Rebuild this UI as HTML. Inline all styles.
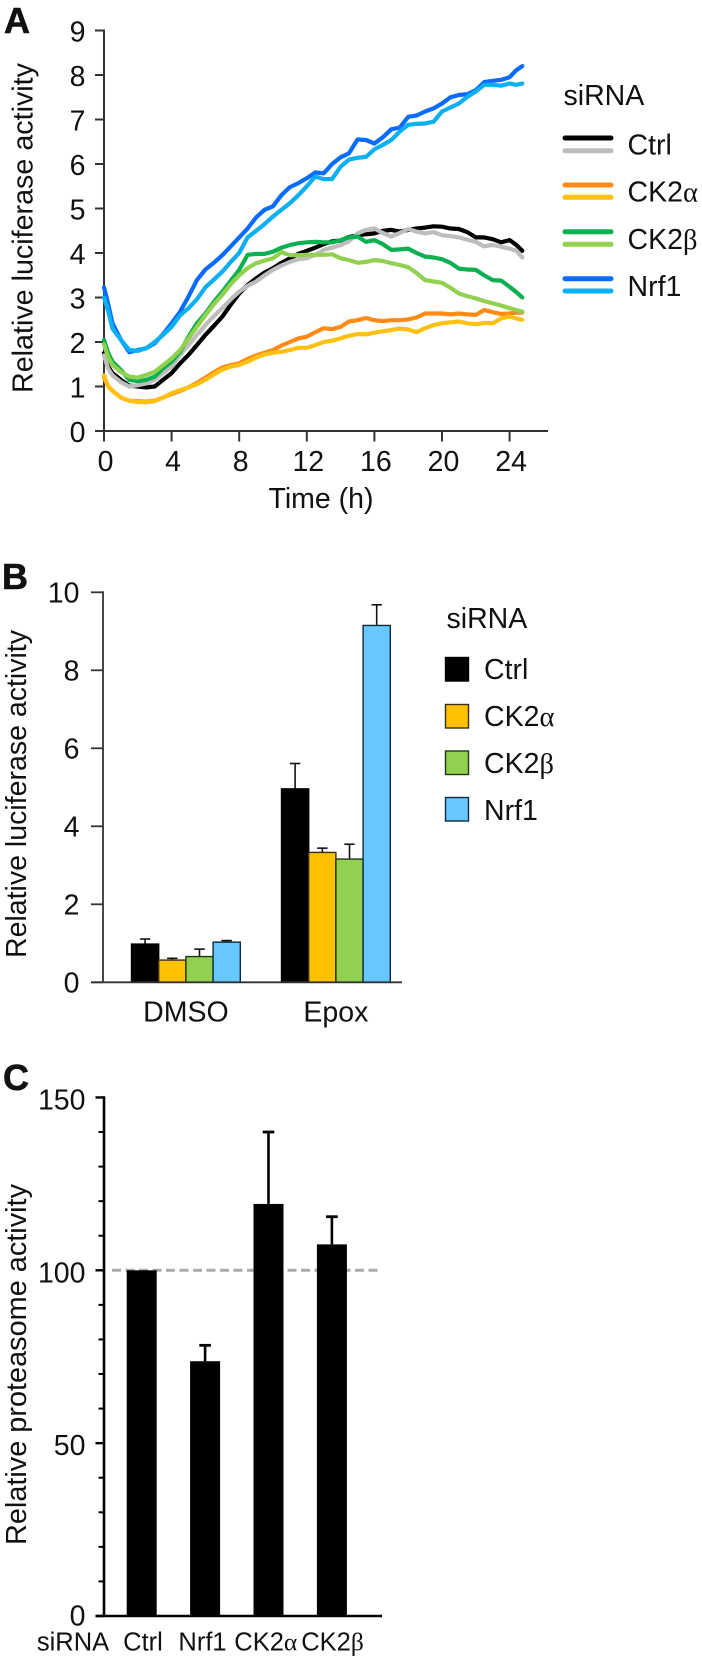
<!DOCTYPE html>
<html lang="en">
<head>
<meta charset="utf-8">
<title>siRNA luciferase and proteasome activity</title>
<style>
html,body{margin:0;padding:0;background:#fff;}
svg{display:block;}
text{font-family:"Liberation Sans",Arial,sans-serif;fill:#111;}
.g{font-family:"Liberation Serif",serif;}
.p{stroke:#111;stroke-width:0.6;}
</style>
</head>
<body>
<svg id="fig" xmlns="http://www.w3.org/2000/svg" width="702" height="1657" viewBox="0 0 702 1657">
  <rect width="702" height="1657" fill="#fff"/>

  <text class="p" x="4" y="33" font-size="36" font-weight="bold">A</text>
  <text transform="translate(32.5,393) rotate(-90)" font-size="28.5" textLength="330" lengthAdjust="spacingAndGlyphs">Relative luciferase activity</text>
  <text x="321" y="508" font-size="28.5" text-anchor="middle">Time (h)</text>
  <text x="563.5" y="105" font-size="28.5">siRNA</text>
  <g id="legendA">
    <text x="627.5" y="154.5" font-size="28.5">Ctrl</text>
    <text x="627.5" y="201.7" font-size="28.5">CK2<tspan class="g">α</tspan></text>
    <text x="627.5" y="249" font-size="28.5">CK2<tspan class="g">β</tspan></text>
    <text x="627.5" y="296" font-size="28.5">Nrf1</text>
  </g>

  <text class="p" x="2" y="589" font-size="36" font-weight="bold">B</text>
  <text transform="translate(26,958) rotate(-90)" font-size="28.5" textLength="328" lengthAdjust="spacingAndGlyphs">Relative luciferase activity</text>
  <text x="446.5" y="628" font-size="28.5">siRNA</text>
  <g id="legendB">
    <text x="484" y="679" font-size="28.5">Ctrl</text>
    <text x="484" y="726" font-size="28.5">CK2<tspan class="g">α</tspan></text>
    <text x="484" y="773" font-size="28.5">CK2<tspan class="g">β</tspan></text>
    <text x="484" y="820" font-size="28.5">Nrf1</text>
  </g>

  <text class="p" x="3" y="1090" font-size="36" font-weight="bold">C</text>
  <text transform="translate(26,1545) rotate(-90)" font-size="28.5" textLength="361" lengthAdjust="spacingAndGlyphs">Relative proteasome activity</text>
  <text x="73" y="1650.7" font-size="25.5" text-anchor="middle">siRNA</text>
  <text x="143" y="1650.7" font-size="25.5" text-anchor="middle">Ctrl</text>
  <text x="202.5" y="1650.7" font-size="25.5" text-anchor="middle">Nrf1</text>
  <text x="265.8" y="1650.7" font-size="25.5" text-anchor="middle">CK2<tspan class="g">α</tspan></text>
  <text x="332.5" y="1650.7" font-size="25.5" text-anchor="middle">CK2<tspan class="g">β</tspan></text>
</svg>

<script>
// ---------- Panel A data ----------
var hours = [0,0.25,0.5,1,1.5,2,2.5,3,3.5,4,
  4.5,5,5.5,6,6.5,7,7.5,8,8.5,9,
  9.5,10,10.5,11,11.5,12,12.5,13,13.5,14,
  14.5,15,15.5,16,16.5,17,17.5,18,18.5,19,
  19.5,20,20.5,21,21.5,22,22.5,23,23.5,24,
  24.4,24.75];
var ctrlDark = [1.75,1.45,1.3,1.15,1.02,1.0,0.98,1.0,1.15,1.3,
  1.52,1.71,1.93,2.16,2.36,2.57,2.84,3.09,3.28,3.43,
  3.56,3.66,3.78,3.88,3.98,4.05,4.12,4.2,4.26,4.28,
  4.36,4.4,4.42,4.44,4.5,4.52,4.48,4.52,4.55,4.57,
  4.6,4.59,4.55,4.54,4.47,4.35,4.35,4.31,4.24,4.29,
  4.18,4.05];
var ctrlLight = [1.7,1.4,1.25,1.1,1.0,1.03,1.07,1.15,1.3,1.45,
  1.71,1.93,2.16,2.38,2.58,2.76,2.96,3.13,3.26,3.36,
  3.5,3.62,3.72,3.8,3.86,3.88,3.96,4.07,4.12,4.18,
  4.26,4.44,4.52,4.55,4.45,4.37,4.45,4.54,4.48,4.44,
  4.47,4.4,4.38,4.35,4.3,4.25,4.15,4.18,4.14,4.1,
  4.05,3.9];
var ck2aDark = [1.2,1.0,0.9,0.75,0.68,0.67,0.66,0.68,0.75,0.83,
  0.9,0.98,1.08,1.2,1.32,1.43,1.48,1.52,1.62,1.7,
  1.76,1.82,1.92,2.0,2.08,2.12,2.22,2.31,2.29,2.34,
  2.46,2.49,2.54,2.49,2.47,2.49,2.49,2.51,2.55,2.64,
  2.64,2.64,2.62,2.64,2.62,2.61,2.72,2.67,2.63,2.64,
  2.66,2.66];
var ck2aLight = [1.25,1.0,0.9,0.75,0.68,0.65,0.65,0.67,0.75,0.85,
  0.92,0.98,1.05,1.15,1.27,1.38,1.45,1.48,1.56,1.65,
  1.72,1.76,1.78,1.82,1.87,1.87,1.93,2.0,2.03,2.08,
  2.14,2.18,2.17,2.21,2.24,2.27,2.3,2.28,2.22,2.31,
  2.38,2.42,2.44,2.46,2.42,2.4,2.43,2.42,2.53,2.57,
  2.53,2.5];
var ck2bDark = [2.05,1.75,1.56,1.37,1.15,1.12,1.15,1.22,1.41,1.56,
  1.78,2.12,2.42,2.64,2.9,3.13,3.38,3.62,3.96,3.98,
  3.98,4.03,4.12,4.18,4.22,4.24,4.25,4.24,4.24,4.29,
  4.35,4.37,4.25,4.29,4.2,4.07,4.08,4.1,4.0,3.92,
  3.9,3.86,3.78,3.65,3.63,3.62,3.5,3.39,3.38,3.24,
  3.12,3.0];
var ck2bLight = [1.95,1.65,1.48,1.33,1.22,1.2,1.26,1.33,1.48,1.63,
  1.82,2.08,2.34,2.6,2.85,3.06,3.3,3.5,3.66,3.77,
  3.83,3.88,4.02,3.95,3.95,3.96,3.96,3.96,3.97,3.88,
  3.84,3.78,3.8,3.84,3.82,3.77,3.73,3.68,3.55,3.39,
  3.36,3.33,3.22,3.09,3.03,2.98,2.92,2.87,2.82,2.76,
  2.72,2.68];
var nrfDark = [3.23,2.85,2.42,2.05,1.77,1.82,1.86,1.97,2.18,2.42,
  2.68,3.02,3.39,3.63,3.78,3.95,4.15,4.35,4.55,4.8,
  4.97,5.05,5.3,5.48,5.57,5.68,5.81,5.79,6.0,6.15,
  6.24,6.55,6.54,6.46,6.6,6.78,6.82,7.06,7.09,7.18,
  7.25,7.36,7.5,7.55,7.57,7.66,7.84,7.87,7.89,7.95,
  8.11,8.2];
var nrfLight = [3.0,2.7,2.3,2.05,1.82,1.8,1.86,2.0,2.16,2.34,
  2.6,2.76,2.96,3.23,3.4,3.58,3.8,4.0,4.35,4.5,
  4.65,4.82,4.97,5.12,5.3,5.5,5.72,5.66,5.66,5.94,
  6.1,6.14,6.16,6.33,6.43,6.54,6.73,6.88,6.9,6.91,
  6.95,7.18,7.27,7.36,7.51,7.63,7.78,7.78,7.76,7.81,
  7.78,7.81];
var aYTicks = [0,1,2,3,4,5,6,7,8,9];
var aXTicks = [0,4,8,12,16,20,24];

// ---------- Panel B data ----------
var bGroups = ["DMSO","Epox"];
var bSeriesNames = ["ctrl","ck2a","ck2b","nrf1"];
var bDmso = [0.98,0.57,0.66,1.03];
var bDmsoErrTop = [1.11,0.615,0.85,1.07];
var bEpox = [4.96,3.33,3.16,9.15];
var bEpoxErrTop = [5.61,3.44,3.54,9.68];
var bYTicks = [0,2,4,6,8,10];

// ---------- Panel C data ----------
var cCategories = ["ctrl","nrf1","ck2a","ck2b"];
var cValues = [100,73.7,119.2,107.5];
var cErrTop = [100,78.3,140,115.5];
var cYTicks = [0,50,100,150];
var cMinorTicks = [10,20,30,40,60,70,80,90,110,120,130,140];
var cReference = 100;

// ---------- Axis functions ----------
function axX(h){ return 104 + h * 16.9; }
function axY(v){ return 431 - v * 44.5; }
function bxY(v){ return 982.3 - v * 39; }
function bxBar(g, i){ return (g === 0 ? 131.5 : 281.5) + i * 27.2; }
function cxY(v){ return 1616 - v * 3.457; }
function cxBar(i){ return 141.7 + i * 63.4; }

var svg = document.getElementById('fig');
var NS = 'http://www.w3.org/2000/svg';
function make(tag, parent, attrs){
  var n = document.createElementNS(NS, tag);
  for (var k in attrs) n.setAttribute(k, attrs[k]);
  parent.appendChild(n);
  return n;
}
function seg(parent, x1, y1, x2, y2, color, w){
  return make('line', parent, {x1:x1, y1:y1, x2:x2, y2:y2, stroke:color, 'stroke-width':w});
}
var el;

// ---------- Panel A ----------
var axisA = '#333';
var gA = make('g', svg, {});


el = seg(gA, axX(0), axY(9) - 1, axX(0), axY(0) + 10.5, axisA, 2);


el = seg(gA, 95, axY(0), 548, axY(0), axisA, 2);


aYTicks.forEach(function(v){
  var t = seg(gA, 95, axY(v), axX(0), axY(v), axisA, 2);
  
  
  var l = make('text', gA, {x:85.5, y:axY(v) + 11, 'font-size':28.5, 'text-anchor':'end'});
  l.textContent = v;
  
  
});
aXTicks.forEach(function(h){
  var t = seg(gA, axX(h), axY(0), axX(h), axY(0) + 10.5, axisA, 2);
  
  
  var l = make('text', gA, {x:axX(h) + 1.5, y:471, 'font-size':28.5, 'text-anchor':'middle'});
  l.textContent = h;
  
  
});
function drawSeries(values, color){
  var d = '';
  for (var i = 0; i < values.length; i++) {
    d += (i ? 'L' : 'M') + axX(hours[i]).toFixed(1) + ' ' + axY(values[i]).toFixed(1);
  }
  return make('path', gA, {d:d, fill:'none', stroke:color, 'stroke-width':4.2,
    'stroke-linejoin':'round', 'stroke-linecap':'round'});
}
el = drawSeries(ctrlDark, '#000000');


el = drawSeries(ctrlLight, '#bdbdbd');


el = drawSeries(ck2aDark, '#ff8a14');


el = drawSeries(ck2aLight, '#ffc014');


el = drawSeries(ck2bDark, '#0cb050');


el = drawSeries(ck2bLight, '#92d050');


el = drawSeries(nrfDark, '#0a6cff');


el = drawSeries(nrfLight, '#0cb0f0');



// Panel A legend keys
var lgA = document.getElementById('legendA');
function key(y, color){
  return make('line', lgA, {x1:565, y1:y, x2:611, y2:y, stroke:color, 'stroke-width':5, 'stroke-linecap':'round'});
}
el = key(138, '#000000');


el = key(150.7, '#bdbdbd');


el = key(185, '#ff8a14');


el = key(197.3, '#ffc014');


el = key(231.7, '#0cb050');


el = key(244.3, '#92d050');


el = key(278.7, '#0a6cff');


el = key(291, '#0cb0f0');



// ---------- Panel B ----------
var gB = make('g', svg, {});


var bFill = ['#000000','#ffc000','#92d050','#66c8ff'];
var bLine = ['#000000','#3a2e10','#22351a','#0e2a3c'];
el = seg(gB, 103, bxY(10) - 1, 103, bxY(0), axisA, 1.8);


bYTicks.forEach(function(v){
  var t = seg(gB, 91, bxY(v), 103, bxY(v), axisA, 1.8);
  
  
  var l = make('text', gB, {x:79.5, y:bxY(v) + 10, 'font-size':28.5, 'text-anchor':'end'});
  l.textContent = v;
  
  
});
[bDmso, bEpox].forEach(function(vals, g){
  var errs = g === 0 ? bDmsoErrTop : bEpoxErrTop;
  vals.forEach(function(v, i){
    var x = bxBar(g, i), cx = x + 13.6;
    var s = seg(gB, cx, bxY(errs[i]), cx, bxY(v), '#141414', 1.6);
    
    
    var c = seg(gB, cx - 5.2, bxY(errs[i]), cx + 5.2, bxY(errs[i]), '#141414', 1.6);
    
    
    var r = make('rect', gB, {x:x, y:bxY(v), width:27.2, height:bxY(0) - bxY(v), fill:bFill[i], stroke:bLine[i], 'stroke-width':1.4});
    
    
  });
  var l = make('text', gB, {x:(bxBar(g, 0) + bxBar(g, 3) + 27.2) / 2, y:1021.5, 'font-size':28.5, 'text-anchor':'middle'});
  l.textContent = bGroups[g];
  
  
});
el = seg(gB, 91, bxY(0), 402, bxY(0), axisA, 1.8);



// Panel B legend swatches
var lgB = document.getElementById('legendB');
function swatch(y, i){
  return make('rect', lgB, {x:445.5, y:y, width:23, height:23.5, fill:bFill[i], stroke:bLine[i], 'stroke-width':1.4});
}
el = swatch(657.5, 0);


el = swatch(704.5, 1);


el = swatch(751, 2);


el = swatch(797.5, 3);



// ---------- Panel C ----------
var gC = make('g', svg, {});


el = make('line', gC, {x1:112, y1:cxY(cReference), x2:382, y2:cxY(cReference), stroke:'#aaaaaa', 'stroke-width':3, 'stroke-dasharray':'9 4.5'});


el = seg(gC, 104, cxY(150) - 1.2, 104, cxY(0), '#000', 2.6);


cYTicks.forEach(function(v){
  var t = seg(gC, 95.5, cxY(v), 104, cxY(v), '#000', 2.4);
  
  
  var l = make('text', gC, {x:85.5, y:cxY(v) + (v === 0 ? 9.5 : 12), 'font-size':28.5, 'text-anchor':'end'});
  l.textContent = v;
  
  
});
cMinorTicks.forEach(function(v){
  var t = seg(gC, 98.5, cxY(v), 104, cxY(v), '#000', 2);
  
  
});
cValues.forEach(function(v, i){
  var cx = cxBar(i);
  var r = make('rect', gC, {x:cx - 15, y:cxY(v), width:30, height:cxY(0) - cxY(v), fill:'#000'});
  
  
  if (cErrTop[i] > v) {
    var s = seg(gC, cx, cxY(cErrTop[i]), cx, cxY(v), '#000', 2.6);
    
    
    var c = seg(gC, cx - 5.8, cxY(cErrTop[i]), cx + 5.8, cxY(cErrTop[i]), '#000', 2.8);
    
    
  }
});
el = seg(gC, 95.5, cxY(0), 382, cxY(0), '#000', 2.6);


</script>
</body>
</html>
